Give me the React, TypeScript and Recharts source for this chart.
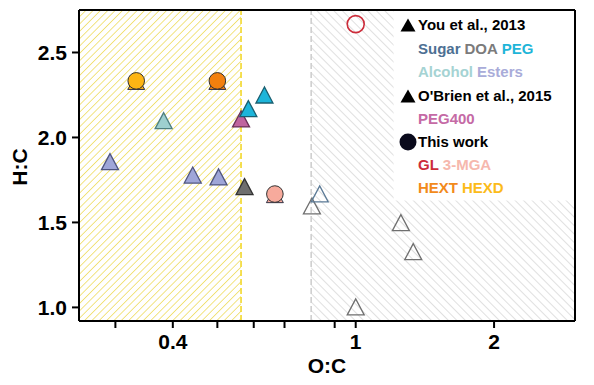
import React from 'react';
import { ScatterChart, Scatter, XAxis, YAxis, ReferenceArea, ReferenceLine } from 'recharts';

// ---- data ----
const sugarOpen = [{ x: 0.835, y: 1.665 }];
const doaOpen = [
  { x: 0.803, y: 1.594 },
  { x: 1.254, y: 1.496 },
  { x: 1.334, y: 1.325 },
  { x: 1.0, y: 1.0 },
];
const doaFilled = [{ x: 0.573, y: 1.708 }];
const peg = [
  { x: 0.633, y: 2.247 },
  { x: 0.584, y: 2.167 },
];
const peg400 = [{ x: 0.563, y: 2.106 }];
const alcohol = [{ x: 0.382, y: 2.096 }];
const esters = [
  { x: 0.292, y: 1.855 },
  { x: 0.442, y: 1.776 },
  { x: 0.503, y: 1.765 },
];
const gl = [{ x: 1.0, y: 2.667 }];
const mga = [{ x: 0.667, y: 1.667 }];
const hext = [{ x: 0.5, y: 2.333 }];
const hexd = [{ x: 0.333, y: 2.333 }];

const xDomain = [0.25, 3];
const yDomain = [0.92, 2.75];
const xTicks = [0.3, 0.4, 0.5, 0.6, 0.7, 0.9, 1, 2];
const xTickLabels: Record<string, string> = { '0.4': '0.4', '1': '1', '2': '2' };
const yTicks = [1.0, 1.5, 2.0, 2.5];
const yellowZone = [0.25, 0.563];
const grayZone = [0.8, 3];
const legendBox = { x1: 1.209, x2: 3, y1: 1.629, y2: 2.75 };

const FONT = '"Liberation Sans", Arial, Helvetica, sans-serif';

const tri = (fill: string, stroke: string) => (p: any) => {
  const { cx, cy } = p;
  if (cx == null || cy == null) return <g />;
  return (
    <polygon
      points={`${cx},${cy - 8.5} ${cx - 8.5},${cy + 7.5} ${cx + 8.5},${cy + 7.5}`}
      fill={fill}
      stroke={stroke}
      strokeWidth={1.3}
      strokeLinejoin="miter"
    />
  );
};

const circ = (fill: string) => (p: any) => {
  const { cx, cy } = p;
  if (cx == null || cy == null) return <g />;
  return (
    <g>
      <polygon
        points={`${cx},${cy - 6} ${cx - 8.5},${cy + 8.6} ${cx + 8.5},${cy + 8.6}`}
        fill={fill}
        stroke="#334"
        strokeWidth={1}
      />
      <circle cx={cx} cy={cy} r={8.3} fill={fill} stroke="#333" strokeWidth={1} />
    </g>
  );
};

const openCirc = (stroke: string) => (p: any) => {
  const { cx, cy } = p;
  if (cx == null || cy == null) return <g />;
  return <circle cx={cx} cy={cy} r={8.5} fill="none" stroke={stroke} strokeWidth={1.6} />;
};

const legendRows: { y: number; marker?: 'tri' | 'circ'; parts: [string, string][] }[] = [
  { y: 25, marker: 'tri', parts: [['You et al., 2013', '#000']] },
  { y: 48.5, parts: [['Sugar', '#4d7093'], ['DOA', '#7b7b7b'], ['PEG', '#1fb5d8']] },
  { y: 72, parts: [['Alcohol', '#a5d3d3'], ['Esters', '#a9acd9']] },
  { y: 95.5, marker: 'tri', parts: [["O'Brien et al., 2015", '#000']] },
  { y: 118.5, parts: [['PEG400', '#c56aa5']] },
  { y: 141.5, marker: 'circ', parts: [['This work', '#000']] },
  { y: 164.5, parts: [['GL', '#cc2c3a'], ['3-MGA', '#f6b8ad']] },
  { y: 188, parts: [['HEXT', '#f28a1b'], ['HEXD', '#fcbb1a']] },
];

export default function App() {
  return (
    <div style={{ position: 'absolute', left: 0, top: 0, width: 594, height: 385, background: '#fff', fontFamily: FONT }}>
      <ScatterChart width={594} height={385} margin={{ top: 10, right: 19, bottom: 0, left: 0 }}>
        <defs>
          <pattern id="yh" patternUnits="userSpaceOnUse" width="5.2" height="5.2" patternTransform="rotate(45)">
            <line x1="0" y1="0" x2="0" y2="5.2" stroke="#eedb5a" strokeWidth="1.5" />
          </pattern>
          <pattern id="gh" patternUnits="userSpaceOnUse" width="6" height="6" patternTransform="rotate(-45)">
            <line x1="0" y1="0" x2="0" y2="6" stroke="#cbcbcb" strokeWidth="1.2" />
          </pattern>
        </defs>
        <XAxis
          dataKey="x"
          type="number"
          scale="log"
          domain={xDomain}
          allowDataOverflow
          ticks={xTicks}
          interval={0}
          tickFormatter={(v: number) => xTickLabels[String(v)] ?? ''}
          height={64}
          axisLine={{ stroke: '#000', strokeWidth: 2 }}
          tickLine={{ stroke: '#000', strokeWidth: 2 }}
          tickSize={7}
          tickMargin={6}
          tick={{ fill: '#000', fontSize: 21, fontWeight: 'bold', fontFamily: FONT }}
        />
        <YAxis
          dataKey="y"
          type="number"
          domain={yDomain}
          allowDataOverflow
          ticks={yTicks}
          interval={0}
          tickFormatter={(v: number) => v.toFixed(1)}
          width={79}
          axisLine={{ stroke: '#000', strokeWidth: 2 }}
          tickLine={{ stroke: '#000', strokeWidth: 2 }}
          tickSize={7}
          tickMargin={5}
          tick={{ fill: '#000', fontSize: 21, fontWeight: 'bold', fontFamily: FONT }}
        />
        <ReferenceArea x1={yellowZone[0]} x2={yellowZone[1]} y1={yDomain[0]} y2={yDomain[1]} fill="url(#yh)" fillOpacity={1} stroke="none" />
        <ReferenceArea x1={grayZone[0]} x2={grayZone[1]} y1={yDomain[0]} y2={yDomain[1]} fill="url(#gh)" fillOpacity={1} stroke="none" />
        <ReferenceArea x1={legendBox.x1} x2={legendBox.x2} y1={legendBox.y1} y2={legendBox.y2} fill="#fff" fillOpacity={1} stroke="none" />
        <ReferenceLine x={yellowZone[1]} stroke="#f2d82c" strokeWidth={1.6} strokeDasharray="6 3" />
        <ReferenceLine x={grayZone[0]} stroke="#cfcfcf" strokeWidth={1.6} strokeDasharray="6 3" />
        <ReferenceLine y={yDomain[1]} stroke="#000" strokeWidth={2} />
        <ReferenceLine x={xDomain[1]} stroke="#000" strokeWidth={2} />

        <Scatter data={doaOpen} isAnimationActive={false} shape={tri('none', '#6f6f6f')} />
        <Scatter data={sugarOpen} isAnimationActive={false} shape={tri('none', '#5b7a96')} />
        <Scatter data={doaFilled} isAnimationActive={false} shape={tri('#6e6e6e', '#333')} />
        <Scatter data={esters} isAnimationActive={false} shape={tri('#9fa6d8', '#4f5580')} />
        <Scatter data={alcohol} isAnimationActive={false} shape={tri('#9ecfcf', '#4e7f80')} />
        <Scatter data={peg400} isAnimationActive={false} shape={tri('#c0649f', '#6a3058')} />
        <Scatter data={peg} isAnimationActive={false} shape={tri('#1db5da', '#1a5f70')} />
        <Scatter data={mga} isAnimationActive={false} shape={circ('#f7aa9c')} />
        <Scatter data={hext} isAnimationActive={false} shape={circ('#f2800e')} />
        <Scatter data={hexd} isAnimationActive={false} shape={circ('#fdb514')} />
        <Scatter data={gl} isAnimationActive={false} shape={openCirc('#cc2c3a')} />
      </ScatterChart>

      {/* axis titles */}
      <div style={{ position: 'absolute', left: 327, top: 366, transform: 'translate(-50%,-50%)', fontSize: 21, fontWeight: 'bold', whiteSpace: 'nowrap' }}>O:C</div>
      <div style={{ position: 'absolute', left: 20, top: 167, transform: 'translate(-50%,-50%) rotate(-90deg)', fontSize: 21, fontWeight: 'bold', whiteSpace: 'nowrap' }}>H:C</div>

      {/* legend */}
      {legendRows.map((r, i) => (
        <div key={i} style={{ position: 'absolute', left: 397, top: r.y, transform: 'translateY(-50%)', display: 'flex', alignItems: 'center', whiteSpace: 'nowrap', fontSize: 15, fontWeight: 'bold', lineHeight: '18px' }}>
          <div style={{ width: 21, display: 'flex', justifyContent: 'center' }}>
            {r.marker === 'tri' && (
              <svg width={16} height={14}><polygon points="8,0.5 0.5,13.5 15.5,13.5" fill="#000" /></svg>
            )}
            {r.marker === 'circ' && (
              <svg width={18} height={18}><circle cx={9} cy={9} r={8.5} fill="#0a0a1c" /></svg>
            )}
          </div>
          {r.parts.map(([t, c], j) => (
            <span key={j} style={{ color: c, marginRight: 4 }}>{t}</span>
          ))}
        </div>
      ))}
    </div>
  );
}
